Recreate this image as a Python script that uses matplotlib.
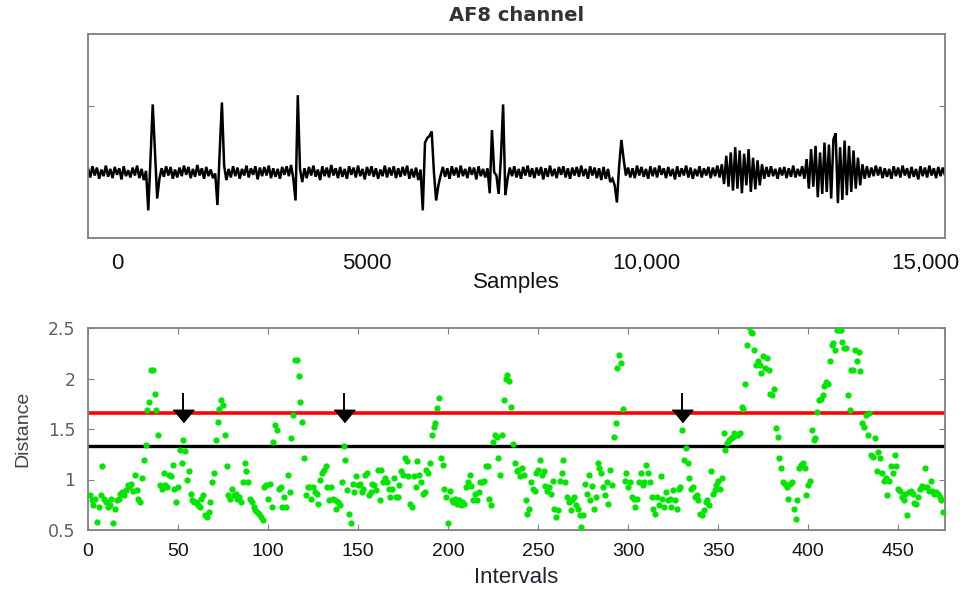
import numpy as np
import matplotlib.pyplot as plt

# AF8 trace, one value every 40 samples
step = 40
eeg = [
    0.06, -0.08, 0.09, -0.05, 0.07, -0.10, 0.04, -0.06, 0.10, -0.07, 0.05, -0.09, 0.08, -0.04, 0.06, -0.11, 0.09, -0.06, 0.03, -0.08,
    0.07, -0.05, 0.10, -0.09, 0.05, -0.12, 0.02, -0.58, 0.20, 1.03, 0.30, -0.40, -0.10, 0.06, -0.07, 0.09, -0.05, 0.08, -0.10, 0.04,
    -0.08, 0.07, -0.06, 0.10, -0.04, 0.08, -0.09, 0.05, -0.07, 0.11, -0.05, 0.06, -0.10, 0.08, -0.06, 0.04, -0.09, -0.02, -0.50, 0.30,
    1.06, 0.10, -0.12, 0.05, -0.08, 0.09, -0.06, 0.07, -0.10, 0.05, -0.05, 0.10, -0.08, 0.06, -0.04, 0.09, -0.11, 0.07, -0.06, 0.08,
    -0.05, 0.10, -0.09, 0.06, -0.07, 0.05, -0.10, 0.08, -0.04, 0.09, -0.06, 0.11, -0.10, -0.43, 1.17, 0.05, -0.15, 0.06, -0.09, 0.08,
    -0.05, 0.10, -0.07, 0.04, -0.12, 0.09, -0.06, 0.07, -0.08, 0.11, -0.05, 0.06, -0.09, 0.08, -0.07, 0.05, -0.10, 0.09, -0.04, 0.07,
    -0.08, 0.10, -0.06, 0.05, -0.11, 0.08, -0.05, 0.09, -0.07, 0.06, -0.10, 0.04, -0.06, 0.10, -0.08, 0.07, -0.05, 0.09, -0.09, 0.06,
    -0.07, 0.08, -0.05, 0.10, -0.10, 0.05, -0.08, 0.07, -0.12, 0.04, -0.58, 0.45, 0.52, 0.55, 0.62, 0.00, -0.43, -0.20, -0.05, 0.08,
    -0.07, 0.06, -0.10, 0.09, -0.05, 0.07, -0.08, 0.10, -0.06, 0.05, -0.09, 0.08, -0.04, 0.07, -0.11, 0.09, -0.06, 0.05, -0.08, 0.06,
    -0.32, 0.64, 0.00, -0.05, -0.33, 0.20, 1.03, -0.35, -0.10, 0.07, -0.06, 0.09, -0.08, 0.05, -0.10, 0.08, -0.05, 0.10, -0.07, 0.06,
    -0.09, 0.07, -0.05, 0.08, -0.11, 0.06, -0.07, 0.10, -0.06, 0.05, -0.09, 0.08, -0.04, 0.09, -0.08, 0.06, -0.10, 0.07, -0.05, 0.08,
    -0.07, 0.10, -0.06, 0.05, -0.10, 0.09, -0.05, 0.07, -0.09, 0.06, -0.12, 0.08, -0.10, 0.05, -0.15, -0.10, -0.20, -0.46, 0.10, 0.49,
    0.20, -0.05, 0.07, -0.08, 0.06, -0.09, 0.10, -0.05, 0.08, -0.07, 0.05, -0.10, 0.09, -0.06, 0.07, -0.08, 0.10, -0.04, 0.06, -0.09,
    0.08, -0.06, 0.05, -0.11, 0.09, -0.07, 0.06, -0.05, 0.10, -0.08, 0.07, -0.10, 0.05, -0.06, 0.09, -0.08, 0.06, -0.05, 0.08, -0.09,
    0.07, -0.06, 0.10, -0.08, 0.12, -0.18, 0.25, -0.22, 0.30, -0.28, 0.38, -0.25, 0.33, -0.32, 0.28, -0.20, 0.35, -0.30, 0.22, -0.26,
    0.18, -0.20, 0.12, -0.10, 0.08, -0.07, 0.09, -0.06, 0.05, -0.10, 0.07, -0.05, 0.08, -0.09, 0.06, -0.07, 0.10, -0.08, 0.05, -0.06,
    0.09, -0.10, 0.20, -0.25, 0.35, -0.22, 0.40, -0.38, 0.30, -0.33, 0.45, -0.30, 0.42, -0.40, 0.50, 0.59, -0.47, 0.38, -0.42, 0.48,
    -0.35, 0.40, -0.30, 0.33, -0.25, 0.22, -0.20, 0.12, -0.10, 0.09, -0.08, 0.07, -0.06, 0.10, -0.05, 0.08, -0.09, 0.06, -0.07, 0.05,
    -0.10, 0.09, -0.06, 0.07, -0.08, 0.10, -0.05, 0.06, -0.09, 0.08, -0.07, 0.05, -0.11, 0.09, -0.06, 0.07, -0.08, 0.10, -0.05, 0.06,
    -0.09, 0.08, -0.06, 0.07, -0.05,
]

# distance per interval, in five chunks (intervals 1-95, 96-190, ...)
dist_1 = [
    0.85, 0.80, 0.75, 0.81, 0.58, 0.73, 0.85, 1.13, 0.81, 0.78,
    0.73, 0.75, 0.81, 0.57, 0.71, 0.80, 0.81, 0.86, 0.88, 0.85,
    0.90, 0.95, 0.93, 0.96, 0.89, 1.04, 0.90, 0.81, 0.78, 1.01,
    1.19, 1.34, 1.69, 1.77, 2.08, 2.08, 1.85, 1.69, 1.44, 0.95,
    0.91, 1.06, 0.95, 0.93, 1.04, 1.03, 1.14, 0.91, 0.78, 0.93,
    1.29, 1.16, 1.39, 1.28, 1.00, 1.08, 0.86, 0.80, 0.78, 0.78,
    0.75, 0.73, 0.81, 0.85, 0.65, 0.63, 0.68, 0.78, 0.98, 1.06,
    1.39, 1.57, 1.70, 1.79, 1.74, 1.44, 1.13, 0.85, 0.81, 0.91,
    0.85, 0.86, 0.81, 0.83, 0.78, 0.98, 1.16, 1.08, 0.98, 0.81,
    0.78, 0.73, 0.70, 0.68, 0.66,
]
dist_2 = [
    0.63, 0.60, 0.93, 0.95, 0.81, 0.96, 0.73, 1.37, 1.54, 1.49,
    0.91, 0.93, 0.73, 0.83, 0.73, 1.04, 0.88, 1.41, 1.64, 2.18,
    2.18, 2.02, 1.77, 1.57, 1.21, 0.85, 0.93, 0.93, 0.81, 0.93,
    0.88, 0.86, 0.76, 1.00, 1.06, 1.09, 1.13, 0.93, 0.80, 0.93,
    0.81, 0.80, 0.71, 0.78, 0.75, 0.98, 1.33, 1.19, 0.90, 0.66,
    0.57, 0.96, 0.88, 1.03, 0.95, 0.96, 0.88, 0.91, 1.04, 1.06,
    0.85, 0.88, 0.96, 0.95, 0.90, 1.09, 0.80, 1.09, 0.98, 1.01,
    0.98, 0.91, 0.83, 0.91, 1.01, 0.83, 0.83, 0.95, 1.08, 1.04,
    1.21, 1.18, 1.03, 0.76, 0.73, 1.03, 0.93, 1.18, 1.04, 0.98,
    0.86, 0.88, 1.09, 1.06, 1.16,
]
dist_3 = [
    1.44, 1.52, 1.56, 1.71, 1.81, 1.21, 1.14, 0.91, 0.83, 0.57,
    0.89, 0.80, 0.78, 0.81, 0.76, 0.80, 0.75, 0.78, 0.76, 0.93,
    0.98, 1.04, 0.94, 0.80, 0.86, 0.80, 0.88, 0.98, 0.98, 0.99,
    1.13, 1.13, 0.81, 0.75, 1.37, 1.44, 1.42, 1.21, 1.04, 1.44,
    1.79, 2.00, 2.03, 1.98, 1.72, 1.35, 1.16, 1.08, 1.09, 1.03,
    1.11, 1.04, 0.80, 0.66, 0.71, 0.98, 0.91, 0.89, 1.06, 1.09,
    1.19, 1.04, 1.08, 0.94, 0.89, 0.93, 0.86, 0.99, 0.71, 0.63,
    0.70, 0.99, 1.06, 1.19, 0.98, 0.83, 0.78, 0.70, 0.80, 0.83,
    0.75, 0.71, 0.65, 0.53, 0.65, 0.96, 0.86, 1.04, 0.80, 0.94,
    0.71, 0.83, 1.16, 1.11, 1.06,
]
dist_4 = [
    0.93, 0.85, 0.98, 0.76, 1.09, 0.95, 1.42, 1.56, 2.10, 2.23,
    2.15, 1.70, 0.99, 1.06, 0.93, 0.98, 0.83, 0.81, 0.73, 0.81,
    0.98, 1.06, 0.95, 0.98, 1.14, 1.06, 0.98, 0.83, 0.71, 0.66,
    0.83, 0.75, 1.03, 0.81, 0.73, 0.88, 0.80, 0.81, 0.73, 0.90,
    0.80, 0.71, 0.91, 0.93, 1.49, 1.19, 1.31, 1.16, 1.01, 0.91,
    0.93, 0.83, 0.85, 0.80, 0.66, 0.65, 0.70, 0.78, 0.80, 0.75,
    1.08, 0.86, 0.90, 0.95, 0.99, 0.91, 1.01, 1.46, 1.29, 1.36,
    1.39, 1.41, 1.42, 1.46, 1.44, 1.44, 1.46, 1.72, 1.70, 1.95,
    2.33, 2.51, 2.46, 2.45, 2.28, 2.13, 2.17, 2.13, 2.05, 2.22,
    2.10, 2.20, 2.08, 1.85, 1.84,
]
dist_5 = [
    1.90, 1.51, 1.42, 1.21, 1.11, 0.98, 0.96, 0.93, 0.81, 0.96,
    0.98, 0.71, 0.61, 0.80, 1.11, 1.14, 1.16, 1.11, 0.85,
    0.95, 0.99, 1.49, 1.39, 1.41, 1.67, 1.79, 1.80, 1.84, 1.93,
    1.97, 1.95, 2.17, 2.33, 2.35, 2.28, 2.48, 2.48, 2.48, 2.36,
    2.30, 2.30, 1.84, 1.69, 2.08, 2.08, 2.28, 2.17, 2.26, 2.07,
    1.56, 1.52, 1.64, 1.44, 1.66, 1.24, 1.22, 1.41, 1.08, 1.27,
    1.21, 1.06, 0.99, 1.01, 0.85, 0.99, 1.13, 1.06, 1.24, 1.13,
    0.91, 0.89, 0.83, 0.80, 0.86, 0.65, 0.88, 0.89, 0.86, 0.77,
    0.76, 0.83, 0.91, 0.94, 0.93, 1.11, 0.93, 0.89, 0.99, 0.89,
    0.86, 0.88, 0.86, 0.83, 0.80, 0.68,
]
distance = dist_1 + dist_2 + dist_3 + dist_4 + dist_5

red_level = 1.66     # upper threshold
black_level = 1.33   # lower threshold
arrow_at = [53, 142, 330]

top_ticks = [5000, 10000, 15000]
top_labels = ['0', '5000', '10,000', '15,000']

W, H = 963, 590
fig = plt.figure(figsize=(W / 100, H / 100), dpi=100)
ax1 = fig.add_axes([88 / W, 1 - 238 / H, 857 / W, 204 / H])
ax2 = fig.add_axes([88 / W, 1 - 530 / H, 857 / W, 202 / H])

frame = '#808080'
for ax in (ax1, ax2):
    for s in ax.spines.values():
        s.set_color(frame)
        s.set_linewidth(1.3)

# --- top: raw channel ---
t = np.arange(len(eeg)) * step
ax1.plot(t, eeg, color='black', lw=1.8, solid_joinstyle='miter')
ax1.set_xlim(0, 15360)
ax1.set_ylim(-1.0, 2.1)
ax1.set_yticks([1.0])
ax1.set_yticklabels([])
ax1.tick_params(axis='y', direction='in', length=4, color=frame, left=True, right=True)
# labels sit on major ticks (the "0" is drawn a little right of the edge), marks on minor ones
ax1.set_xticks([520] + top_ticks)
ax1.set_xticklabels(top_labels, family='Liberation Sans', fontsize=16, color='#111111')
ax1.tick_params(axis='x', which='major', length=0, pad=11)
ax1.set_xticks(top_ticks, minor=True)
ax1.tick_params(axis='x', which='minor', direction='in', length=4, color=frame, top=True, bottom=True)
ax1.set_xlabel('Samples', family='Liberation Sans', fontsize=16, color='#111111')
ax1.xaxis.set_label_coords(0.5, -0.22)
ax1.xaxis.label.set_va('center')
ax1.set_title('AF8 channel', fontsize=14, fontweight='bold', color='#333333', y=1.025)

# --- bottom: distance per interval ---
x = np.arange(1, len(distance) + 1)
ax2.axhline(red_level, color='#ff0000', lw=2.6, zorder=2)
ax2.axhline(black_level, color='black', lw=2.4, zorder=2)
ax2.plot(x, distance, 'o', color='#00e600', ms=4.5, mec='none', zorder=3)

head = [(-1, 0.6), (1, 0.6), (0, -0.6)]
for a in arrow_at:
    ax2.plot([a, a], [1.85, 1.68], color='black', lw=1.4, zorder=4)
    ax2.plot(a, 1.63, marker=head, ms=15, color='black', mec='black', zorder=4)

ax2.set_xlim(0, 476)
ax2.set_ylim(0.5, 2.5)
ax2.set_xticks(np.arange(0, 451, 50))
ax2.set_yticks([0.5, 1, 1.5, 2, 2.5])
ax2.set_yticklabels(['0.5', '1', '1.5', '2', '2.5'])
ax2.tick_params(axis='x', direction='in', length=4, color=frame, top=True, bottom=True,
                labelsize=14, labelcolor='#141414', pad=9)
ax2.tick_params(axis='y', direction='in', length=4, color=frame, left=True, right=True,
                labelsize=12.5, labelcolor='#606060', pad=9)
for lab in ax2.get_xticklabels():
    lab.set_family('Liberation Sans')
ax2.set_xlabel('Intervals', family='Liberation Sans', fontsize=16, color='#222233')
ax2.xaxis.set_label_coords(0.5, -0.235)
ax2.xaxis.label.set_va('center')
ax2.set_ylabel('Distance', family='Liberation Sans', fontsize=14, color='#444444')
ax2.yaxis.set_label_coords(-0.076, 0.5)
ax2.yaxis.label.set_va('center')

fig.savefig('out.png', dpi=100)
